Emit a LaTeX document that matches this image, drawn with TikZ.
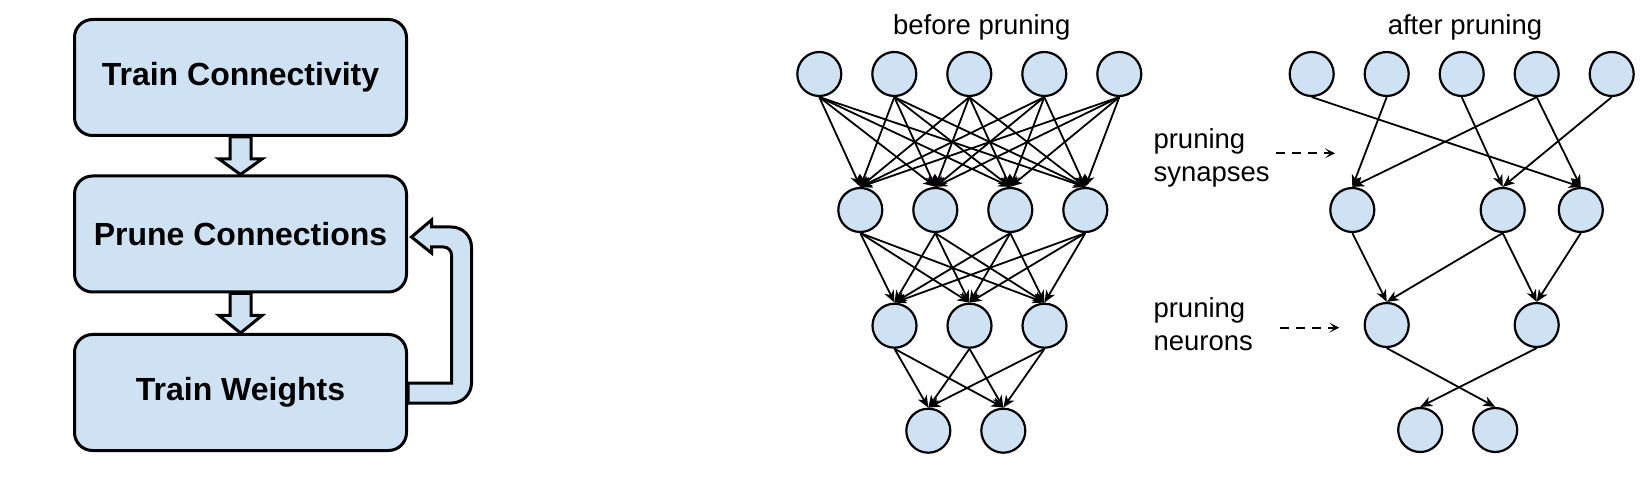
\documentclass[tikz,border=0pt]{standalone}
\usepackage{fontspec}
\setmainfont{Liberation Sans}
\usetikzlibrary{arrows.meta,calc,backgrounds}
\definecolor{cellblue}{HTML}{CFE2F3}
\tikzset{
	stepbox/.style={draw, fill=cellblue, rounded corners=18pt, line width=3pt, minimum width=332pt, minimum height=116pt, inner sep=0pt, font=\fontsize{32}{38}\selectfont\bfseries},
	blockarrow/.style={draw, fill=cellblue, line width=3pt, line join=miter},
	neuron/.style={circle, draw, fill=cellblue, line width=2.2pt, minimum size=44pt, inner sep=0pt},
	syn/.style={line width=1.8pt, -{Stealth[length=12pt,width=10pt,inset=3.5pt]}},
	heading/.style={anchor=base, inner sep=0pt, font=\fontsize{27.5}{33}\selectfont},
	note/.style={anchor=base west, align=left, inner sep=0pt, font=\fontsize{27.5}{33}\selectfont},
	hint/.style={line width=1.8pt, dash pattern=on 9pt off 7pt, -{Stealth[length=10pt,width=10pt,inset=5pt]}}
}
\begin{document}
\begin{tikzpicture}[x=1pt, y=-1pt]
	\useasboundingbox (0,0) rectangle (1652,494);
	
	%Flow of the three steps
	\node[stepbox] (conn) at (240.5,77.5) {Train Connectivity};
	\node[stepbox] (prune) at (240.5,234) {Prune Connections};
	\node[stepbox] (weights) at (240.5,392.5) {Train Weights};
	
	\begin{scope}[on background layer]
		%Block arrows
		\foreach \a/\b in {conn/prune, prune/weights}
			\draw[blockarrow] ($(\a.south)+(-10.5,0)$) -- ++(0,22) -- ++(-11,0) -- (\b.north) -- ($(\a.south)+(21.5,22)$) -- ++(-11,0) -- ($(\a.south)+(10.5,0)$) -- cycle;
		
		%Loop back
		\draw[blockarrow] ($(weights.east)+(0,10.5)$) [rounded corners=20pt] -- ($(weights.east)+(63.5,10.5)$) -- ($(prune.east)+(63.5,-7)$) [sharp corners] -- ($(prune.east)+(23.5,-7)$) -- ++(0,-7) -- ($(prune.east)+(3.5,3)$) -- ($(prune.east)+(23.5,19)$) -- ++(0,-6) [rounded corners=8pt] -- ($(prune.east)+(43.5,13)$) [sharp corners] -- ($(weights.east)+(43.5,-9.5)$) -- ($(weights.east)+(0,-9.5)$) -- cycle;
	\end{scope}
	
	%Before pruning
	\node[heading] (before) at (981.7,35) {before pruning};
	\foreach \i in {1,...,5} \node[neuron] (bA\i) at (744.3+75*\i,74) {};
	\foreach \i in {1,...,4} \node[neuron] (bB\i) at (785.3+75*\i,210) {};
	\foreach \i in {1,2,3} \node[neuron] (bC\i) at (819.5+75*\i,325.7) {};
	\foreach \i in {1,2} \node[neuron] (bD\i) at (853.3+75*\i,430.7) {};
	
	\foreach \i in {1,...,5} \foreach \j in {1,...,4} \draw[syn] (bA\i.south) -- (bB\j.north);
	\foreach \i in {1,...,4} \foreach \j in {1,2,3} \draw[syn] (bB\i.south) -- (bC\j.north);
	\foreach \i in {1,2,3} \foreach \j in {1,2} \draw[syn] (bC\i.south) -- (bD\j.north);
	
	%After pruning
	\node[heading] (after) at (1465,35) {after pruning};
	\foreach \i in {1,...,5} \node[neuron] (aA\i) at (1236.7+75*\i,74) {};
	\node[neuron] (aB1) at (1352.3,210) {};
	\node[neuron] (aB3) at (1502.7,210) {};
	\node[neuron] (aB4) at (1580.8,210) {};
	\node[neuron] (aC1) at (1386.7,325) {};
	\node[neuron] (aC3) at (1536.7,325) {};
	\node[neuron] (aD1) at (1420.2,430) {};
	\node[neuron] (aD2) at (1495.2,430) {};
	
	\foreach \a/\b in {aA1/aB4, aA2/aB1, aA3/aB3, aA4/aB1, aA4/aB4, aA5/aB3, aB1/aC1, aB3/aC1, aB3/aC3, aB4/aC3, aC1/aD2, aC3/aD1}
		\draw[syn] (\a.south) -- (\b.north);
	
	%Notes (base is the last line)
	\node[note] (synnote) at (1153.3,181.7) {pruning\\synapses};
	\node[note] (neunote) at (1153.3,351) {pruning\\neurons};
	\coordinate (synA) at (1276,153.3);
	\coordinate (synB) at (1335,153.3);
	\coordinate (neuA) at (1280,327.7);
	\coordinate (neuB) at (1339.3,327.7);
	\draw[hint] (synA) -- (synB);
	\draw[hint] (neuA) -- (neuB);
\end{tikzpicture}
\end{document}
